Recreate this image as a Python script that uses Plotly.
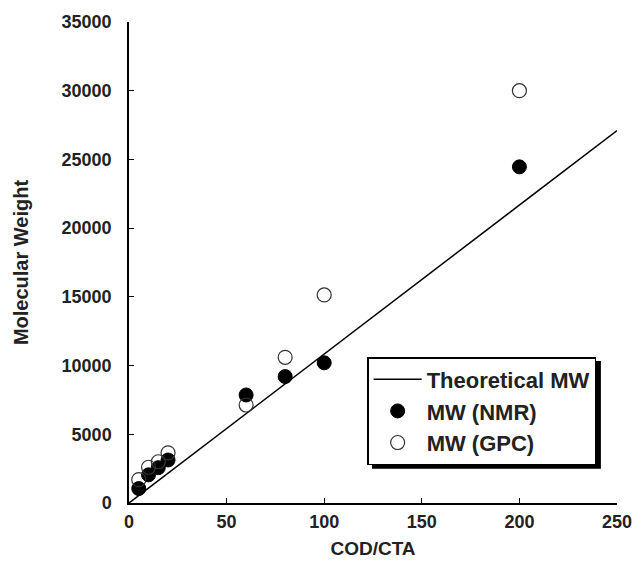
import plotly.graph_objects as go

theory_x = [0, 250]
theory_y = [0, 27100]

nmr_x = [5, 10, 15, 20, 60, 80, 100, 200]
nmr_y = [1050, 2050, 2570, 3130, 7860, 9200, 10200, 24460]

gpc_x = [5, 10, 15, 20, 60, 80, 100, 200]
gpc_y = [1700, 2600, 3000, 3650, 7130, 10600, 15140, 30000]

x_ticks = [0, 50, 100, 150, 200, 250]
y_ticks = [0, 5000, 10000, 15000, 20000, 25000, 30000, 35000]

FONT = "Liberation Sans, Arial, sans-serif"
TXT = "#222222"

fig = go.Figure()
fig.add_trace(go.Scatter(x=theory_x, y=theory_y, mode="lines", name="<b>Theoretical MW</b>",
                         legendgroup="a",
                         line=dict(color="black", width=1.5)))
fig.add_trace(go.Scatter(x=nmr_x, y=nmr_y, mode="markers", name="<b>MW (NMR)</b>",
                         legendgroup="b",
                         marker=dict(symbol="circle", size=14, color="black",
                                     line=dict(color="black", width=1))))
fig.add_trace(go.Scatter(x=gpc_x, y=gpc_y, mode="markers", name="<b>MW (GPC)</b>",
                         legendgroup="c",
                         marker=dict(symbol="circle-open", size=14, color="#333333",
                                     line=dict(width=1.2))))

axis_common = dict(
    showline=True, linecolor="black", linewidth=1.5, mirror=False,
    ticks="inside", ticklen=5, tickcolor="black", tickwidth=1,
    showgrid=False, zeroline=False, automargin=False,
    tickfont=dict(family=FONT, size=18, color=TXT),
)

fig.update_xaxes(range=[0, 250], tickvals=x_ticks,
                 ticktext=[f"<b>{v}</b>" for v in x_ticks],
                 ticklabelstandoff=2,
                 title=dict(text="<b>COD/CTA</b>", font=dict(family=FONT, size=19, color=TXT),
                            standoff=10),
                 **axis_common)
fig.update_yaxes(range=[0, 35000], tickvals=y_ticks,
                 ticktext=[f"<b>{v}</b>" for v in y_ticks],
                 ticklabelstandoff=12,
                 title=dict(text="<b>Molecular Weight</b>", font=dict(family=FONT, size=20, color=TXT),
                            standoff=28),
                 **axis_common)

# legend shadow
fig.add_shape(type="rect", xref="paper", yref="paper",
              x0=0.498, x1=0.967, y0=0.071, y1=0.295,
              fillcolor="black", line=dict(width=0), layer="below")

fig.update_layout(
    width=637, height=572,
    margin=dict(l=129, r=20, t=22, b=69),
    plot_bgcolor="white", paper_bgcolor="white",
    showlegend=True,
    legend=dict(x=0.488, y=0.3035, xanchor="left", yanchor="top",
                bgcolor="white", bordercolor="black", borderwidth=1.5,
                font=dict(family=FONT, size=22, color=TXT),
                tracegroupgap=0, itemwidth=48),
)

fig.write_html("out.html", config={"displayModeBar": False},
               post_script="document.body.style.margin='0';")
